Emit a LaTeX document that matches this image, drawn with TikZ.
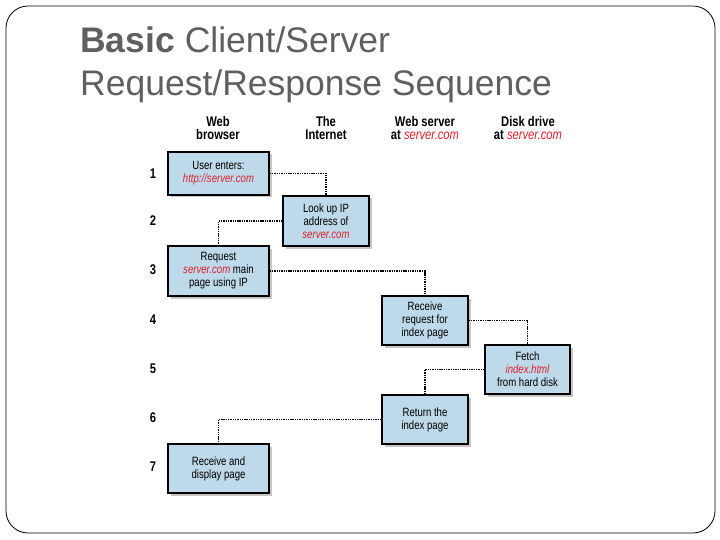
\documentclass[tikz,border=0pt]{standalone}
\usepackage{fontspec}
\setmainfont{Liberation Sans}
\newfontfamily\cond{Liberation Sans}[FakeStretch=0.8]
\usetikzlibrary{shadows}
\definecolor{boxblue}{HTML}{BDD9EA}
\definecolor{redtxt}{HTML}{E0202C}
\definecolor{titlegray}{HTML}{5F5F5F}
\newcommand{\rd}[1]{{\color{redtxt}\itshape #1}}
\tikzset{
  stepbox/.style={draw=black, line width=1.5pt, fill=boxblue, align=center,
    font=\cond\fontsize{12}{13}\selectfont, inner sep=1pt,
    drop shadow={opacity=0.45, shadow xshift=2.5pt, shadow yshift=-2.5pt}},
  head/.style={align=center, font=\cond\bfseries\fontsize{14}{13.5}\selectfont},
  rownum/.style={font=\cond\bfseries\fontsize{14}{14}\selectfont},
  link/.style={line width=1.6pt, dash pattern=on 1.4pt off 0.9pt},
  titletext/.style={anchor=base west, text=titlegray, font=\fontsize{35.5}{40}\selectfont, inner sep=0pt}
}
\begin{document}
\begin{tikzpicture}[x=1pt,y=-1pt]
\useasboundingbox (0,0) rectangle (720,540);
\draw[line width=0.8pt, rounded corners=22pt] (6,6) rectangle (715,533);
\node[titletext] (t1) at (80,53) {\textbf{Basic} Client/Server};
\node[titletext] (t2) at (80,96) {Request/Response Sequence};
% headers
\node[head] (h1) at (218,128) {Web\\browser};
\node[head] (h2) at (326,128) {The\\Internet};
\node[head] (h3) at (425,128) {Web server\\at {\mdseries\rd{server.com}}};
\node[head] (h4) at (528,128) {Disk drive\\at {\mdseries\rd{server.com}}};
% row numbers
\node[rownum] (n1) at (153,174) {1};
\node[rownum] (n2) at (153,221) {2};
\node[rownum] (n3) at (153,270) {3};
\node[rownum] (n4) at (153,320) {4};
\node[rownum] (n5) at (153,369) {5};
\node[rownum] (n6) at (153,418) {6};
\node[rownum] (n7) at (153,467) {7};
% boxes
\node[stepbox, minimum width=101pt, minimum height=43pt] (b1) at (218.5,173.5) {User enters:\\\rd{http://server.com}};
\node[stepbox, minimum width=86pt, minimum height=50pt] (b2) at (326,221) {Look up IP\\address of\\\rd{server.com}};
\node[stepbox, minimum width=101pt, minimum height=50pt] (b3) at (218.5,271) {Request\\\rd{server.com} main\\page using IP};
\node[stepbox, minimum width=86pt, minimum height=49pt] (b4) at (425,320.5) {Receive\\request for\\index page};
\node[stepbox, minimum width=85pt, minimum height=49pt] (b5) at (527.5,369.5) {Fetch\\\rd{index.html}\\from hard disk};
\node[stepbox, minimum width=86pt, minimum height=49pt] (b6) at (425,419.5) {Return the\\index page};
\node[stepbox, minimum width=101pt, minimum height=49pt] (b7) at (218.5,468.5) {Receive and\\display page};
% connectors
\draw[link] (b1.east) -| (b2.north);
\draw[link] (b2.west) -| (b3.north);
\draw[link] (b3.east) -| (b4.north);
\draw[link] (b4.east) -| (b5.north);
\draw[link] (b5.west) -| (b6.north);
\draw[link] (b6.west) -| (b7.north);
\end{tikzpicture}
\end{document}
